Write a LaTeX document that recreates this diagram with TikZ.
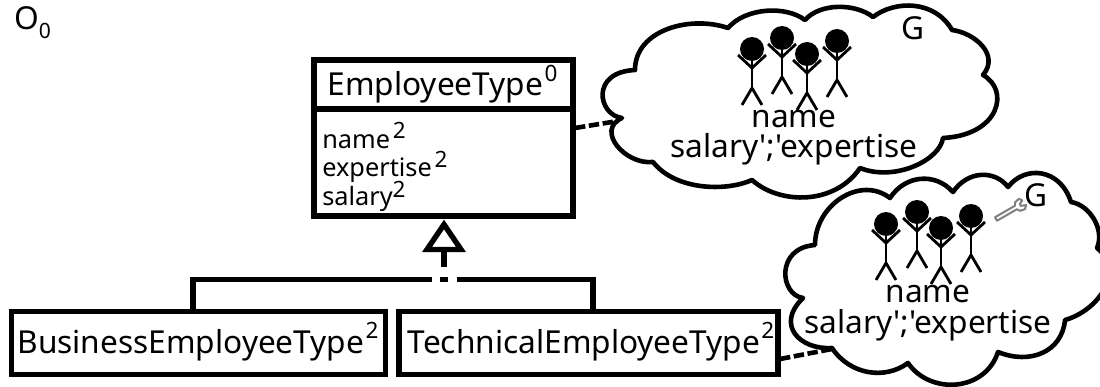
\documentclass[tikz,border=0pt]{standalone}
\usepackage{fontspec}
\setmainfont{Noto Sans}[Ligatures=TeXOff]
\newcommand{\lvl}[2]{\smash{\raisebox{#1}{\fontsize{16pt}{16pt}\selectfont #2}}}
\tikzset{
	classbox/.style={
		draw,
		line width=0.135cm,
		fill=white,
		inner sep=0pt
	},
	textlabel/.style={
		anchor=base,
		inner sep=0pt,
		font=\fontsize{22.5pt}{22.5pt}\selectfont
	},
	attrlabel/.style={
		anchor=north west,
		inner sep=0pt,
		align=left,
		font=\fontsize{18pt}{20.5pt}\selectfont
	},
	cloudline/.style={
		draw,
		fill=white,
		line width=0.115cm,
		line join=round
	},
	notelink/.style={
		line width=0.115cm,
		dash pattern=on 0.26cm off 0.09cm
	},
	genline/.style={
		line width=0.135cm
	},
	stickline/.style={
		line width=0.07cm
	},
	stickman/.pic={
		\fill (0,0) circle (12);
		\draw[stickline] (0,8) -- (0,39);
		\draw[stickline] (-14,6) -- (0,19) -- (14,6);
		\draw[stickline] (-10,56) -- (0,39) -- (10,56);
	}
}
\begin{document}
\begin{tikzpicture}[x=0.025cm,y=-0.025cm]
	\useasboundingbox (0,0) rectangle (1100,387);
	\path[cloudline] (622,118)
		.. controls (598,115) and (590,72) .. (635,70)
		.. controls (635,30) and (690,15) .. (728,28)
		.. controls (745,8) and (785,5) .. (805,20)
		.. controls (820,3) and (855,3) .. (873,17)
		.. controls (895,0) and (935,0) .. (952,30)
		.. controls (975,33) and (1000,55) .. (983,75)
		.. controls (1010,90) and (1000,135) .. (943,138)
		.. controls (940,160) and (895,182) .. (860,168)
		.. controls (835,205) and (780,205) .. (752,180)
		.. controls (725,192) and (675,190) .. (653,162)
		.. controls (625,165) and (595,130) .. (622,118)
		-- cycle;
	\path[cloudline] (803,298)
		.. controls (780,295) and (775,248) .. (815,245)
		.. controls (815,205) and (860,175) .. (890,198)
		.. controls (905,175) and (935,172) .. (953,192)
		.. controls (968,170) and (995,170) .. (1008,187)
		.. controls (1025,165) and (1060,168) .. (1071,202)
		.. controls (1090,205) and (1105,230) .. (1097,248)
		.. controls (1125,270) and (1100,310) .. (1065,320)
		.. controls (1062,352) and (1030,365) .. (998,352)
		.. controls (985,392) and (930,395) .. (908,363)
		.. controls (885,380) and (850,375) .. (832,348)
		.. controls (800,350) and (775,325) .. (803,298)
		-- cycle;
	\coordinate (cloudcusp) at (618,121);
	\coordinate (techcusp) at (832,349);
	\foreach \hx/\hy in {752/49, 782/38, 807/54, 837/41, 886/224, 917/212, 941/228, 971/216} {
		\pic at (\hx,\hy) {stickman};
	}
	\node[textlabel] (groupname) at (794,128) {name};
	\node[textlabel] (groupattrs) at (794,158) {salary';'expertise};
	\node[textlabel] (groupmark) at (913,40) {G};
	\node[textlabel] (techname) at (928,302) {name};
	\node[textlabel] (techattrs) at (928,333) {salary';'expertise};
	\node[textlabel] (techmark) at (1036,206) {G};
	\draw[
		color=gray,
		fill=white,
		line width=0.05cm,
		line join=round,
		rotate around={30:(996,219)}
	] (996,217) -- (1019,217) -- (1021,214) -- (1026,213) -- (1028,216) -- (1024,218) -- (1024,220) -- (1029,222) -- (1026,225) -- (1021,224) -- (1019,221) -- (996,221) -- cycle;
	\node[classbox, minimum width=6.48cm, minimum height=1.225cm] (employeehead) at (443.5,84.5) {};
	\node[classbox, minimum width=6.48cm, minimum height=2.675cm] (employeebody) at (443.5,162.5) {};
	\node[textlabel] (employeetitle) at (442.5,96) {EmployeeType\kern1pt\lvl{10pt}{0}};
	\node[attrlabel] (employeeattrs) at (322,134) {name\kern2pt\lvl{6.5pt}{2}\\expertise\kern2pt\lvl{6.5pt}{2}\\salary\lvl{6pt}{2}};
	\node[classbox, minimum width=9.35cm, minimum height=1.56cm] (business) at (198.5,343) {};
	\node[textlabel] (businesstitle) at (198,353) {BusinessEmployeeType\kern1pt\lvl{10.5pt}{2}};
	\node[classbox, minimum width=9.48cm, minimum height=1.56cm] (technical) at (588.5,343) {};
	\node[textlabel] (technicaltitle) at (591,353) {TechnicalEmployeeType\kern1pt\lvl{10.5pt}{2}};
	\coordinate (employeejoin) at (575,128);
	\coordinate (technicaljoin) at (780,359);
	\draw[notelink] (employeejoin) -- (cloudcusp);
	\draw[notelink] (technicaljoin) -- (techcusp);
	\coordinate (apex) at (444,224.5);
	\coordinate (baseleft) at (427,249.5);
	\coordinate (baseright) at (461,249.5);
	\coordinate (basemid) at (444,250);
	\coordinate (stemend) at (444,267);
	\coordinate (gapleft) at (432,279.5);
	\coordinate (gapright) at (457,279.5);
	\coordinate (dotleft) at (440,279.5);
	\coordinate (dotright) at (448,279.5);
	\coordinate (businessjoin) at (193,310);
	\coordinate (technicalup) at (593,310);
	\draw[genline, line join=miter] (apex) -- (baseleft) -- (baseright) -- cycle;
	\draw[genline] (basemid) -- (stemend);
	\draw[genline] (dotleft) -- (dotright);
	\draw[genline] (gapleft) -| (businessjoin);
	\draw[genline] (gapright) -| (technicalup);
	\node[textlabel] (ontology) at (27,30) {O};
	\node[
		anchor=base,
		inner sep=0pt,
		font=\fontsize{15pt}{15pt}\selectfont
	] (ontologyidx) at (45,39) {0};
\end{tikzpicture}
\end{document}
